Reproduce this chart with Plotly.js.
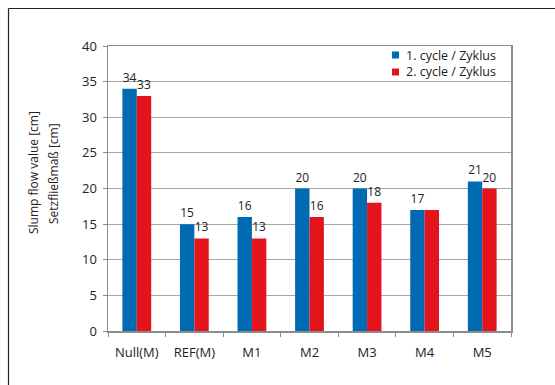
<!DOCTYPE html>
<html>
<head>
<meta charset="utf-8">
<script src="https://cdn.plot.ly/plotly-3.0.1.min.js"></script>
<style>
  html, body { margin: 0; padding: 0; background: #fff; }
  #chart { width: 555px; height: 385px; }
</style>
</head>
<body>
<div id="chart"></div>
<script>
// Slump flow per mixture, two measuring cycles
const categories = ['Null(M)', 'REF(M)', 'M1', 'M2', 'M3', 'M4', 'M5'];
const cycle1 = [34, 15, 16, 20, 20, 17, 21];
const cycle2 = [33, 13, 13, 16, 18, 17, 20];
const cycle1Labels = ['34', '15', '16', '20', '20', '17', '21'];
const cycle2Labels = ['33', '13', '13', '16', '18', '', '20'];
const seriesNames = ['1. cycle / Zyklus', '2. cycle / Zyklus'];
const yTicks = [0, 5, 10, 15, 20, 25, 30, 35, 40];
const yTitleLines = ['Slump flow value [cm]', 'Setzfließmaß [cm]'];

const BLUE = '#006ab3';
const RED = '#e3141c';
const FONT = 'Open Sans, Noto Sans, sans-serif';
const INK = '#222';

const labelFont = { family: FONT, size: 12, color: INK };

const traces = [
  {
    type: 'bar', x: categories, y: cycle1, name: seriesNames[0],
    marker: { color: BLUE }, text: cycle1Labels, textposition: 'outside',
    textfont: labelFont, cliponaxis: false, hoverinfo: 'x+y'
  },
  {
    type: 'bar', x: categories, y: cycle2, name: seriesNames[1],
    marker: { color: RED }, text: cycle2Labels, textposition: 'outside',
    textfont: labelFont, cliponaxis: false, hoverinfo: 'x+y'
  }
];

// pixel -> paper helpers for the 403 x 285 plot area
const px = v => (v - 108) / 403;
const py = v => (331 - v) / 285;

// legend: small square keys with their names
const legendRows = [
  { name: seriesNames[0], color: BLUE, y: 55 },
  { name: seriesNames[1], color: RED, y: 72 }
];

const annotations = [
  ...yTitleLines.map((t, i) => ({
    text: t, textangle: -90, showarrow: false,
    xref: 'paper', yref: 'paper', x: px(i === 0 ? 33 : 53), y: py(173),
    xanchor: 'center', yanchor: 'middle', borderpad: 0,
    font: { family: FONT, size: 12, color: INK }
  })),
  ...legendRows.map(r => ({
    text: r.name, showarrow: false,
    xref: 'paper', yref: 'paper', x: px(405), y: py(r.y),
    xanchor: 'left', yanchor: 'middle', borderpad: 0,
    font: { family: FONT, size: 12.5, color: INK }
  }))
];

const shapes = [
  // outer frame (left and top edges)
  { type: 'line', xref: 'paper', yref: 'paper', x0: px(8.5), x1: px(8.5),
    y0: py(8.5), y1: py(400), line: { color: INK, width: 1.2 } },
  { type: 'line', xref: 'paper', yref: 'paper', x0: px(8.5), x1: px(570),
    y0: py(8.5), y1: py(8.5), line: { color: INK, width: 1.2 } },
  ...legendRows.map(r => ({
    type: 'rect', xref: 'paper', yref: 'paper',
    x0: px(392), x1: px(399), y0: py(r.y - 3.5), y1: py(r.y + 3.5),
    fillcolor: r.color, line: { width: 0 }
  }))
];

const layout = {
  width: 555, height: 385,
  margin: { l: 108, r: 44, t: 46, b: 54 },
  paper_bgcolor: '#fff', plot_bgcolor: '#fff',
  font: { family: FONT, size: 12, color: INK },
  showlegend: false,
  barmode: 'group', bargap: 0.5, bargroupgap: 0,
  xaxis: {
    type: 'category',
    showline: true, linecolor: '#8c8c8c', linewidth: 1.5, mirror: true,
    ticks: 'outside', tickson: 'boundaries', ticklen: 4, tickcolor: '#8c8c8c',
    showgrid: false, tickfont: { family: FONT, size: 13, color: INK },
    ticklabelstandoff: 9
  },
  yaxis: {
    range: [0, 40], tickvals: yTicks,
    showline: true, linecolor: '#8c8c8c', linewidth: 1.5, mirror: true,
    ticks: 'outside', ticklen: 4, tickcolor: '#8c8c8c',
    showgrid: true, gridcolor: '#a8a8a8', gridwidth: 1, zeroline: false,
    tickfont: { family: FONT, size: 13, color: INK },
    ticklabelstandoff: 3
  },
  annotations: annotations,
  shapes: shapes
};

Plotly.newPlot('chart', traces, layout, { displayModeBar: false, staticPlot: true });
</script>
</body>
</html>
